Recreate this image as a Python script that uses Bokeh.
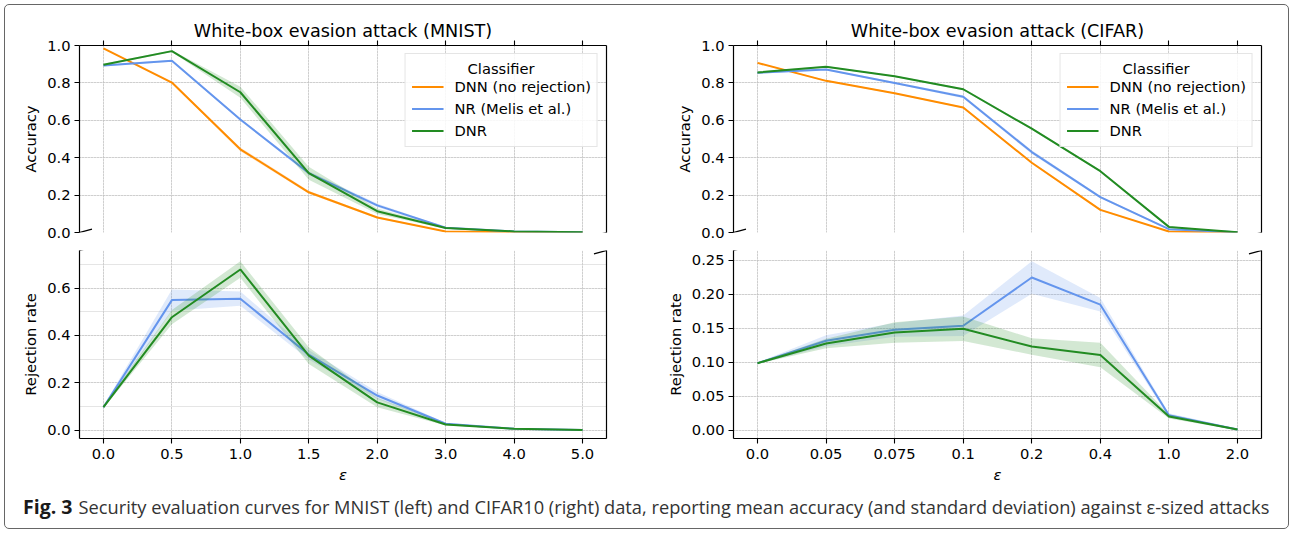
from bokeh.plotting import figure
from bokeh.models import (Range1d, LinearAxis, FixedTicker, Grid, Legend, LegendItem,
                          Arrow, PrintfTickFormatter)
from bokeh.layouts import row, column
from bokeh.embed import file_html
from bokeh.resources import INLINE
from bokeh.core.properties import value

# ---------------- data ----------------
mnist_eps = ["0.0", "0.5", "1.0", "1.5", "2.0", "3.0", "4.0", "5.0"]
cifar_eps = ["0.0", "0.05", "0.075", "0.1", "0.2", "0.4", "1.0", "2.0"]

series_names = ["DNN (no rejection)", "NR (Melis et al.)", "DNR"]
series_colors = ["#ff8c00", "#6495ed", "#228b22"]

# MNIST accuracy
mnist_acc_dnn = [0.985, 0.802, 0.445, 0.215, 0.080, 0.005, 0.003, 0.000]
mnist_acc_nr = [0.893, 0.918, 0.604, 0.318, 0.145, 0.025, 0.006, 0.002]
mnist_acc_dnr = [0.897, 0.970, 0.750, 0.317, 0.114, 0.024, 0.006, 0.002]
mnist_acc_dnn_sd = [0.003, 0.005, 0.010, 0.008, 0.005, 0.002, 0.001, 0.000]
mnist_acc_nr_sd = [0.005, 0.005, 0.006, 0.010, 0.010, 0.003, 0.001, 0.000]
mnist_acc_dnr_sd = [0.005, 0.005, 0.030, 0.035, 0.015, 0.004, 0.002, 0.001]

# MNIST rejection rate
mnist_rej_nr = [0.098, 0.549, 0.555, 0.319, 0.147, 0.028, 0.007, 0.002]
mnist_rej_dnr = [0.098, 0.477, 0.678, 0.315, 0.118, 0.025, 0.007, 0.002]
mnist_rej_nr_sd = [0.005, 0.045, 0.030, 0.020, 0.015, 0.004, 0.001, 0.000]
mnist_rej_dnr_sd = [0.005, 0.030, 0.035, 0.035, 0.020, 0.004, 0.001, 0.000]

# CIFAR accuracy
cifar_acc_dnn = [0.907, 0.811, 0.745, 0.668, 0.373, 0.121, 0.005, 0.000]
cifar_acc_nr = [0.854, 0.872, 0.800, 0.726, 0.430, 0.189, 0.018, 0.001]
cifar_acc_dnr = [0.856, 0.886, 0.835, 0.766, 0.555, 0.328, 0.030, 0.001]
cifar_acc_dnn_sd = [0.003, 0.004, 0.004, 0.004, 0.006, 0.005, 0.002, 0.000]
cifar_acc_nr_sd = [0.005, 0.005, 0.005, 0.008, 0.010, 0.006, 0.004, 0.000]
cifar_acc_dnr_sd = [0.004, 0.004, 0.004, 0.005, 0.005, 0.005, 0.003, 0.000]

# CIFAR rejection rate
cifar_rej_nr = [0.099, 0.132, 0.148, 0.154, 0.225, 0.185, 0.0225, 0.0015]
cifar_rej_dnr = [0.099, 0.128, 0.144, 0.1495, 0.1235, 0.111, 0.0206, 0.0015]
cifar_rej_nr_sd = [0.001, 0.008, 0.010, 0.015, 0.024, 0.010, 0.003, 0.001]
cifar_rej_dnr_sd = [0.001, 0.007, 0.015, 0.018, 0.012, 0.018, 0.003, 0.001]

acc_ticks = [0.0, 0.2, 0.4, 0.6, 0.8, 1.0]
mnist_rej_ticks = [0.0, 0.2, 0.4, 0.6]
cifar_rej_ticks = [0.00, 0.05, 0.10, 0.15, 0.20, 0.25]

titles = ["White-box evasion attack (MNIST)", "White-box evasion attack (CIFAR)"]
legend_title = "Classifier"
caption_bold = "Fig. 3"
caption_rest = ("Security evaluation curves for MNIST (left) and CIFAR10 (right) data, reporting mean "
                "accuracy (and standard deviation) against \u03b5-sized attacks")

FONT = '"DejaVu Sans"'
GRID_COLOR = "#b8b8b8"
FS = "14.7px"


def style_axis(ax):
    ax.axis_line_color = "black"
    ax.axis_line_width = 1.2
    ax.major_tick_line_color = "black"
    ax.major_tick_line_width = 1.1
    ax.major_tick_out = 5
    ax.major_tick_in = 0
    ax.minor_tick_line_color = None
    ax.major_label_text_font = FONT
    ax.major_label_text_font_size = FS
    ax.major_label_text_color = "black"
    ax.major_label_standoff = 4
    ax.axis_label_text_font = FONT
    ax.axis_label_text_font_style = "normal"
    ax.axis_label_text_font_size = FS
    ax.axis_label_text_color = "black"


def add_grid(p, xticker, yticker):
    for dim, tk in ((0, xticker), (1, yticker)):
        g = Grid(dimension=dim, ticker=tk, grid_line_color=GRID_COLOR,
                 grid_line_dash="1 2", grid_line_width=1)
        p.add_layout(g)


def break_marks(p, xlo, xhi, y, dx, dy):
    for xe in (xlo, xhi):
        p.add_layout(Arrow(end=None, x_start=xe - dx, y_start=y - dy, x_end=xe + dx,
                           y_end=y + dy, line_color="black", line_width=1.3))


def panel(kind, labels, ys, sds, ylim, yticks, yfmt, fw, bl, br, title=None, names=None):
    n = len(labels)
    xs = list(range(n))
    xlo, xhi = -0.35, n - 1 + 0.35
    if kind == "top":
        p = figure(frame_width=fw, frame_height=187, min_border_left=bl, min_border_right=br,
                   min_border_top=45, min_border_bottom=9,
                   x_range=Range1d(xlo, xhi), y_range=Range1d(*ylim),
                   x_axis_location=None, y_axis_location=None,
                   output_backend="svg", toolbar_location=None, title=title)
        p.title.align = "center"
        p.title.text_font = FONT
        p.title.text_font_style = "normal"
        p.title.text_font_size = "17.6px"
        p.title.text_color = "black"
        p.title.standoff = 0
    else:
        p = figure(frame_width=fw, frame_height=188, min_border_left=bl, min_border_right=br,
                   min_border_top=9, min_border_bottom=47,
                   x_range=Range1d(xlo, xhi), y_range=Range1d(*ylim),
                   x_axis_location=None, y_axis_location=None,
                   output_backend="svg", toolbar_location=None)
    p.outline_line_color = None
    p.background_fill_color = "white"
    p.border_fill_color = None

    xticker = FixedTicker(ticks=xs)
    yticker = FixedTicker(ticks=yticks)

    yax = LinearAxis(ticker=yticker, formatter=PrintfTickFormatter(format=yfmt),
                     axis_label="Accuracy" if kind == "top" else "Rejection rate")
    style_axis(yax)
    yax.axis_label_standoff = 5
    p.add_layout(yax, "left")

    rax = LinearAxis(ticker=FixedTicker(ticks=[]))
    style_axis(rax)
    p.add_layout(rax, "right")

    if kind == "top":
        tax = LinearAxis(ticker=xticker, major_label_overrides={i: "" for i in xs})
        style_axis(tax)
        tax.major_label_text_font_size = "0px"
        tax.major_label_standoff = 0
        p.add_layout(tax, "above")
    else:
        bax = LinearAxis(ticker=xticker, major_label_overrides={i: lab for i, lab in enumerate(labels)},
                         axis_label="\u03b5")
        style_axis(bax)
        bax.axis_label_text_font_style = "italic"
        bax.axis_label_standoff = 4
        bax.major_label_standoff = 5
        p.add_layout(bax, "below")

    add_grid(p, xticker, yticker)

    renderers = []
    for yv, sd, c in zip(ys, sds, series_colors[-len(ys):]):
        lo = [a - b for a, b in zip(yv, sd)]
        hi = [a + b for a, b in zip(yv, sd)]
        p.varea(x=xs, y1=lo, y2=hi, fill_color=c, fill_alpha=0.2)
        r = p.line(x=xs, y=yv, line_color=c, line_width=2)
        renderers.append(r)

    span = ylim[1] - ylim[0]
    frame_h = 187 if kind == "top" else 188
    dy = 3.4 * span / frame_h
    dx = 12.5 * (xhi - xlo) / fw
    break_marks(p, xlo, xhi, ylim[0] if kind == "top" else ylim[1], dx, dy)

    if names is not None:
        legend = Legend(items=[LegendItem(label=nm, renderers=[r]) for nm, r in zip(names, renderers)],
                        location="top_right",
                        title="\u00a0" * 12 + legend_title)
        legend.margin = 8
        legend.padding = 6
        legend.border_line_color = "#cccccc"
        legend.border_line_width = 1
        legend.background_fill_alpha = 0.85
        legend.label_text_font = FONT
        legend.label_text_font_size = FS
        legend.label_text_color = "black"
        legend.title_text_font = FONT
        legend.title_text_font_size = FS
        legend.title_text_font_style = "normal"
        legend.title_text_color = "black"
        legend.title_standoff = 0
        legend.glyph_width = 32
        legend.glyph_height = 19
        legend.label_height = 19
        legend.label_standoff = 11
        legend.spacing = 3
        p.add_layout(legend)
    return p


tl = panel("top", mnist_eps, [mnist_acc_dnn, mnist_acc_nr, mnist_acc_dnr],
           [mnist_acc_dnn_sd, mnist_acc_nr_sd, mnist_acc_dnr_sd], (0.0, 1.0), acc_ticks, "%.1f",
           527, 79, 57, title=titles[0], names=series_names)
bl = panel("bottom", mnist_eps, [mnist_rej_nr, mnist_rej_dnr], [mnist_rej_nr_sd, mnist_rej_dnr_sd],
           (-0.034, 0.758), mnist_rej_ticks, "%.1f", 527, 79, 57)
tr = panel("top", cifar_eps, [cifar_acc_dnn, cifar_acc_nr, cifar_acc_dnr],
           [cifar_acc_dnn_sd, cifar_acc_nr_sd, cifar_acc_dnr_sd], (0.0, 1.0), acc_ticks, "%.1f",
           528, 69, 32, title=titles[1], names=series_names)
br = panel("bottom", cifar_eps, [cifar_rej_nr, cifar_rej_dnr], [cifar_rej_nr_sd, cifar_rej_dnr_sd],
           (-0.0118, 0.2647), cifar_rej_ticks, "%.2f", 528, 69, 32)

cap = figure(width=1292, height=48, x_range=Range1d(0, 1292), y_range=Range1d(0, 48), min_border=0,
             x_axis_location=None, y_axis_location=None, output_backend="svg", toolbar_location=None)
cap.outline_line_color = None
cap.border_fill_color = None
cap.background_fill_color = None
cap.grid.visible = False
cap.text(x=[22.5], y=[27], text=[caption_bold], text_font=value("Open Sans"), text_font_style="bold",
         text_font_size="19.5px", text_baseline="alphabetic", text_color="#1a1a1a")
cap.text(x=[78], y=[27], text=[caption_rest], text_font=value("Open Sans"), text_font_size="18.25px",
         text_baseline="alphabetic", text_color="#333333")

layout = column(row(column(tl, bl), column(tr, br)), cap,
                styles={"outline": "1.3px solid #666666", "outline-offset": "-5px",
                        "border-radius": "9px"})

open("out.html", "w").write(file_html(layout, INLINE))
